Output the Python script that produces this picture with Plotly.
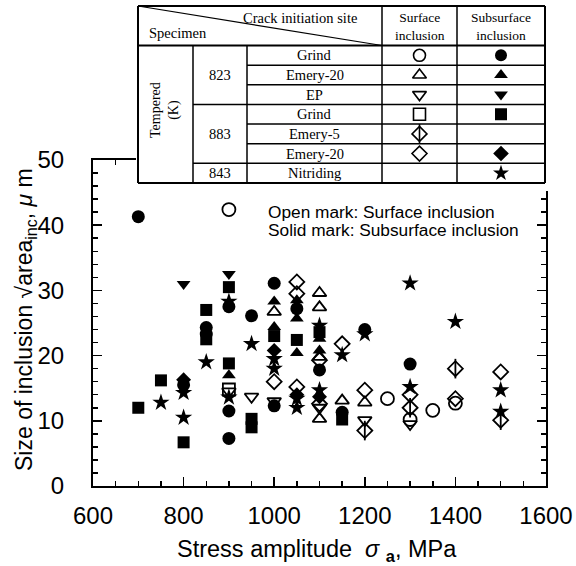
import plotly.graph_objects as go

# ---------------- data ----------------
# 823 K  Grind
circ_open_x = [900, 1250, 1300, 1350, 1400]
circ_open_y = [42.4, 13.4, 10.2, 11.6, 12.7]
circ_fill_x = [700, 800, 850, 850, 900, 900, 900, 950, 1000, 1000, 1050, 1100, 1150, 1200, 1300]
circ_fill_y = [41.3, 15.5, 24.3, 23.3, 27.5, 11.5, 7.3, 26.1, 31.1, 12.3, 27.2, 17.8, 11.3, 24.0, 18.7]
# 823 K  Emery-20
triu_open_x = [1000, 1100, 1100, 1100, 1100, 1150, 1200]
triu_open_y = [26.7, 29.6, 27.4, 19.8, 10.3, 13.1, 12.8]
triu_fill_x = [900, 1000, 1000, 1050, 1050, 1050, 1100, 1100]
triu_fill_y = [17.0, 28.3, 24.4, 28.5, 25.7, 20.4, 22.6, 20.8]
# 823 K  EP
trid_open_x = [900, 950, 1000, 1100, 1200, 1300]
trid_open_y = [14.5, 13.7, 13.0, 12.0, 10.1, 9.5]
trid_fill_x = [800, 900]
trid_fill_y = [31.0, 32.5]
# 883 K  Grind
sq_open_x = [900]
sq_open_y = [14.8]
sq_fill_x = [700, 750, 800, 850, 850, 900, 900, 950, 950, 1000, 1050, 1100, 1150]
sq_fill_y = [12.0, 16.2, 6.7, 27.0, 22.5, 30.5, 18.8, 10.3, 9.0, 23.0, 22.4, 23.6, 10.2]
# 883 K  Emery-5
dline_open_x = [1200, 1300, 1400, 1500]
dline_open_y = [8.5, 12.0, 18.0, 10.1]
# 883 K  Emery-20
dia_open_x = [1000, 1050, 1050, 1050, 1100, 1100, 1150, 1200, 1300, 1400, 1500]
dia_open_y = [16.0, 31.3, 29.5, 15.2, 19.3, 12.6, 21.8, 14.7, 14.0, 13.4, 17.5]
dia_fill_x = [800, 1000, 1050, 1100]
dia_fill_y = [16.3, 20.8, 14.0, 13.7]
# 843 K  Nitriding
star_x = [750, 800, 800, 850, 900, 900, 950, 1000, 1000, 1050, 1050, 1100, 1100,
          1150, 1200, 1300, 1300, 1400, 1500, 1500]
star_y = [12.8, 14.3, 10.5, 19.0, 28.3, 13.6, 21.8, 18.0, 19.5, 13.4, 12.0, 24.6, 14.7,
          20.1, 23.3, 31.1, 15.2, 25.2, 14.7, 11.4]

x_ticks = [600, 800, 1000, 1200, 1400, 1600]
y_ticks = [0, 10, 20, 30, 40, 50]

# table content
row_sites = ["Grind", "Emery-20", "EP", "Grind", "Emery-5", "Emery-20", "Nitriding"]
temper_groups = ["823", "883", "843"]
surface_syms = ["circle-open", "triangle-up-open", "triangle-down-open", "square-open",
                "diamond-open", "diamond-open", None]
subsurface_syms = ["circle", "triangle-up", "triangle-down", "square", None, "diamond", "star"]

# ---------------- figure ----------------
W, H = 576, 566
L, R, T, B = 93, 546, 160, 486   # plot-area pixel box
BLACK = "black"
SANS = "Liberation Sans, Arial, sans-serif"
SERIF = "Liberation Serif, Times New Roman, serif"
NB = "\u00a0"

fig = go.Figure()

def add_pts(x, y, symbol, size, xa="x", ya="y", lw=1.8):
    fig.add_trace(go.Scatter(
        x=x, y=y, mode="markers", xaxis=xa, yaxis=ya, hoverinfo="skip",
        marker=dict(symbol=symbol, size=size, color=BLACK,
                    line=dict(color=BLACK, width=lw))))

add_pts(circ_open_x, circ_open_y, "circle-open", 13)
add_pts(circ_fill_x, circ_fill_y, "circle", 13, lw=0)
add_pts(triu_open_x, triu_open_y, "triangle-up-open", 12)
add_pts(triu_fill_x, triu_fill_y, "triangle-up", 12, lw=0)
add_pts(trid_open_x, trid_open_y, "triangle-down-open", 12)
add_pts(trid_fill_x, trid_fill_y, "triangle-down", 12, lw=0)
add_pts(sq_open_x, sq_open_y, "square-open", 12)
add_pts(sq_fill_x, sq_fill_y, "square", 12, lw=0)
add_pts(dline_open_x, dline_open_y, "diamond-open", 11.5)
add_pts(dline_open_x, dline_open_y, "line-ns-open", 14)
add_pts(dia_open_x, dia_open_y, "diamond-open", 11.5)
add_pts(dia_fill_x, dia_fill_y, "diamond", 11.5, lw=0)
add_pts(star_x, star_y, "star", 13, lw=0)

# ---- table overlay (pixel coordinates on x2/y2) ----
TX0, TX1, TY0, TY1 = 138, 545, 6, 183
cols = [138, 193, 247, 382, 457, 545]
hdr = 45.5
rh = (TY1 - hdr) / 7.0
row_c = [hdr + rh * (i + 0.5) for i in range(7)]

fig.add_trace(go.Scatter(x=[136, 551, 551, 136, 136], y=[0, 0, 191, 191, 0],
                         fill="toself", fillcolor="white", mode="lines",
                         line=dict(width=0, color="white"),
                         xaxis="x2", yaxis="y2", hoverinfo="skip"))

for i, s in enumerate(surface_syms):
    if s:
        add_pts([(cols[3] + cols[4]) / 2], [row_c[i]], s, 11.5 if "diamond" in s else 12, "x2", "y2", 1.6)
add_pts([(cols[3] + cols[4]) / 2], [row_c[4]], "line-ns-open", 14, "x2", "y2", 1.6)
for i, s in enumerate(subsurface_syms):
    if s:
        add_pts([(cols[4] + cols[5]) / 2], [row_c[i]], s, 12, "x2", "y2", 0)

shapes = []
def ln(x0, y0, x1, y1, w=1.5):
    shapes.append(dict(type="line", xref="x2", yref="y2", x0=x0, y0=y0, x1=x1, y1=y1,
                       line=dict(color=BLACK, width=w), layer="above"))

ln(TX0, TY0, TX1, TY0, 2); ln(TX0, TY1, TX1, TY1, 2)
ln(TX0, TY0, TX0, TY1, 2); ln(TX1, TY0, TX1, TY1, 2)
ln(TX0, hdr, TX1, hdr, 2)
for k in range(1, 7):
    y = hdr + rh * k
    x0 = cols[1] if k in (3, 6) else cols[2]
    ln(x0, y, TX1, y)
ln(cols[1], hdr, cols[1], TY1)
ln(cols[2], hdr, cols[2], TY1)
ln(cols[3], TY0, cols[3], TY1)
ln(cols[4], TY0, cols[4], TY1)
ln(TX0, TY0, cols[3], hdr, 1.2)

ann = []
def txt(x, y, s, size=14, font=SERIF, xanchor="center", angle=0):
    ann.append(dict(x=x, y=y, xref="x2", yref="y2", text=s, showarrow=False,
                    xanchor=xanchor, yanchor="middle", textangle=angle,
                    font=dict(family=font, size=size, color=BLACK)))

txt(300, 18, "Crack initiation site", 14.5)
txt(178, 33, "Specimen", 14.5)
txt((cols[3] + cols[4]) / 2, 26, "Surface<br>inclusion", 13.5)
txt((cols[4] + cols[5]) / 2, 26, "Subsurface<br>inclusion", 13.5)
txt(165, 110, "Tempered<br>(K)", 14, angle=-90)
txt((cols[1] + cols[2]) / 2, (hdr + hdr + 3 * rh) / 2, temper_groups[0], 14.5)
txt((cols[1] + cols[2]) / 2, (hdr + 3 * rh + hdr + 6 * rh) / 2, temper_groups[1], 14.5)
txt((cols[1] + cols[2]) / 2, row_c[6], temper_groups[2], 14.5)
for i, s in enumerate(row_sites):
    txt((cols[2] + cols[3]) / 2, row_c[i], s, 14.5)

# in-plot note
txt(266, 212, "Open mark: Surface inclusion", 17.3, SANS, "left")
txt(266, 230, "Solid mark: Subsurface inclusion", 17.3, SANS, "left")
# axis titles
txt(317, 550, f"Stress amplitude{NB}{NB}<i>σ</i>{NB}<sub><b>a</b></sub>, MPa", 23.5, SANS)
txt(25, 320, f"Size of inclusion √area<sub>inc</sub>, <i>μ</i>{NB}m", 23, SANS, angle=-90)

axis_common = dict(showline=True, linecolor=BLACK, linewidth=2, mirror="ticks",
                   ticks="inside", ticklen=9, tickwidth=1.5, tickcolor=BLACK,
                   showgrid=False, zeroline=False, automargin=False,
                   tickfont=dict(family=SANS, size=24, color=BLACK))

fig.update_layout(
    width=W, height=H, margin=dict(l=0, r=0, t=0, b=0, pad=0, autoexpand=False),
    paper_bgcolor="white", plot_bgcolor="rgba(0,0,0,0)", showlegend=False,
    xaxis=dict(domain=[L / W, R / W], range=[600, 1600], tickvals=x_ticks,
               minor=dict(ticks="inside", ticklen=5, dtick=50, tickwidth=1.5, tickcolor=BLACK),
               ticklabelstandoff=7, anchor="y", **axis_common),
    yaxis=dict(domain=[(H - B) / H, (H - T) / H], range=[0, 50], tickvals=y_ticks,
               minor=dict(ticks="inside", ticklen=5, dtick=2, tickwidth=1.5, tickcolor=BLACK),
               ticklabelstandoff=22, anchor="x", **axis_common),
    xaxis2=dict(domain=[0, 1], range=[0, W], visible=False, anchor="y2", fixedrange=True,
                automargin=False),
    yaxis2=dict(domain=[0, 1], range=[H, 0], visible=False, anchor="x2", fixedrange=True,
                automargin=False),
    shapes=shapes, annotations=ann,
)

fig.write_html("out.html", config={"displayModeBar": False, "staticPlot": True},
               post_script="document.body.style.margin='0px';document.body.style.overflow='hidden';")
